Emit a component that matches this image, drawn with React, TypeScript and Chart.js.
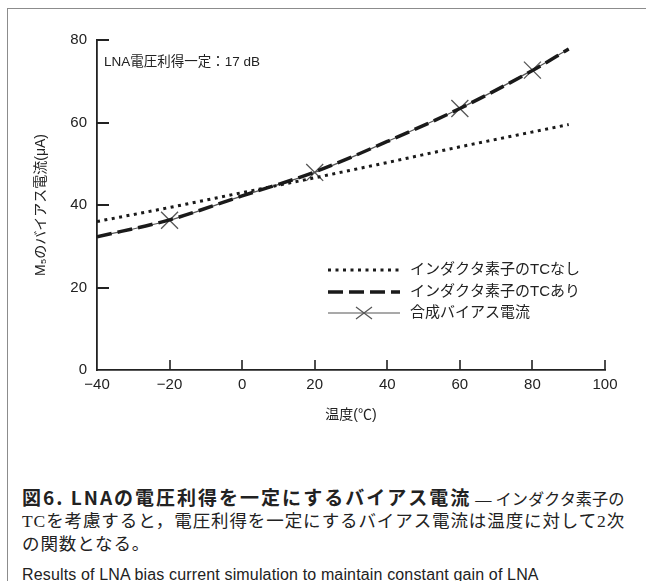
import React, { useEffect, useRef } from "react";
import { Chart, registerables } from "chart.js";

Chart.register(...registerables);

const tempX = [-40, -20, 0, 20, 40, 60, 80, 90];
const noTC = [36, 39.4, 43, 46.6, 50.3, 54.1, 57.7, 59.5];
const withTC = [32.3, 36.4, 42.2, 48.0, 55.4, 63.4, 72.6, 77.8];
const combined = [32.3, 36.3, 42.2, 47.9, 55.4, 63.4, 72.7, 77.8];
const markerTemps = [-20, 20, 60, 80];
const xTicks = [-40, -20, 0, 20, 40, 60, 80, 100];
const yTicks = [0, 20, 40, 60, 80];
const seriesNames = ["インダクタ素子のTCなし", "インダクタ素子のTCあり", "合成バイアス電流"];
const annotation = "LNA電圧利得一定：17 dB";
const xTitle = "温度(℃)";
const yTitle = "M₅のバイアス電流(μA)";

const SANS = '"Liberation Sans", "Noto Sans CJK JP", sans-serif';
const INK = "#222";

const innerTicks = {
  id: "innerTicks",
  afterDraw(chart: any) {
    const ctx: CanvasRenderingContext2D = chart.ctx;
    const area = chart.chartArea;
    const x = chart.scales.x, y = chart.scales.y;
    ctx.save();
    ctx.fillStyle = INK;
    for (const v of yTicks) {
      if (v === 0) continue;
      const py = Math.round(y.getPixelForValue(v));
      ctx.fillRect(area.left, py - 1, 12, 2);
    }
    for (const v of xTicks) {
      if (v === -40) continue;
      const px = Math.round(x.getPixelForValue(v));
      ctx.fillRect(px - 0.8, area.bottom - 10, 1.6, 10);
    }
    // annotation text
    ctx.font = "13.5px " + SANS;
    ctx.textBaseline = "middle";
    ctx.textAlign = "left";
    ctx.fillText(annotation, area.left + 7, area.top + 22);
    ctx.restore();

    // legend
    const lx0 = 328, lx1 = 400, tx = 410;
    const rows = [270, 292, 313];
    const ds = chart.data.datasets;
    rows.forEach((ry: number, i: number) => {
      const d = ds[i];
      ctx.save();
      ctx.strokeStyle = d.borderColor;
      ctx.lineWidth = d.borderWidth;
      ctx.setLineDash(d.borderDash || []);
      ctx.beginPath();
      ctx.moveTo(lx0, ry);
      ctx.lineTo(lx1, ry);
      ctx.stroke();
      ctx.restore();
      if (i === 2) {
        const cx = (lx0 + lx1) / 2, r = 8;
        ctx.save();
        ctx.setLineDash([]);
        ctx.strokeStyle = d.pointBorderColor;
        ctx.lineWidth = 1.2;
        ctx.beginPath();
        ctx.moveTo(cx - r, ry - r * 0.75);
        ctx.lineTo(cx + r, ry + r * 0.75);
        ctx.moveTo(cx - r, ry + r * 0.75);
        ctx.lineTo(cx + r, ry - r * 0.75);
        ctx.stroke();
        ctx.restore();
      }
      ctx.save();
      ctx.fillStyle = INK;
      ctx.font = "15px " + SANS;
      ctx.textBaseline = "middle";
      ctx.textAlign = "left";
      ctx.fillText(seriesNames[i], tx, ry);
      ctx.restore();
    });
  },
};

export default function App() {
  const ref = useRef<HTMLCanvasElement>(null);
  useEffect(() => {
    const canvas = ref.current!;
    Chart.defaults.font.family = SANS;
    Chart.defaults.color = INK;
    const chart = new Chart(canvas, {
      type: "line",
      data: {
        datasets: [
          {
            label: seriesNames[0],
            data: tempX.map((t, i) => ({ x: t, y: noTC[i] })),
            borderColor: "#1a1a1a",
            borderWidth: 3,
            borderDash: [3, 4.5],
            pointRadius: 0,
            cubicInterpolationMode: "monotone",
          },
          {
            label: seriesNames[1],
            data: tempX.map((t, i) => ({ x: t, y: withTC[i] })),
            borderColor: "#1a1a1a",
            borderWidth: 3.5,
            borderDash: [15, 6],
            pointRadius: 0,
            cubicInterpolationMode: "monotone",
          },
          {
            label: seriesNames[2],
            data: tempX.map((t, i) => ({ x: t, y: combined[i] })),
            borderColor: "#555",
            borderWidth: 1.2,
            pointStyle: "crossRot",
            pointRadius: tempX.map((t) => (markerTemps.includes(t) ? 12 : 0)),
            pointBorderColor: "#555",
            pointBorderWidth: 1.3,
            cubicInterpolationMode: "monotone",
          },
        ] as any,
      },
      options: {
        animation: false,
        responsive: false,
        events: [],
        layout: { padding: { left: 0, top: 40, right: 41, bottom: 0 } },
        plugins: { legend: { display: false }, tooltip: { enabled: false } },
        scales: {
          x: {
            type: "linear",
            min: -40,
            max: 100,
            afterFit: (s: any) => { s.height = 70; },
            afterBuildTicks: (s: any) => { s.ticks = xTicks.map((v) => ({ value: v })); },
            grid: { display: false, drawTicks: false },
            border: { display: true, color: INK, width: 1.8 },
            ticks: {
              padding: 6,
              font: { size: 15 },
              color: INK,
              callback: (v: any) => (v < 0 ? "−" + Math.abs(v) : String(v)),
            },
            title: { display: true, text: xTitle, font: { size: 14 }, color: INK, padding: { top: 0, bottom: 16 } },
          },
          y: {
            type: "linear",
            min: 0,
            max: 80,
            afterFit: (s: any) => { s.width = 97; },
            afterBuildTicks: (s: any) => { s.ticks = yTicks.map((v) => ({ value: v })); },
            grid: { display: false, drawTicks: false },
            border: { display: true, color: INK, width: 1.8 },
            ticks: { padding: 10, font: { size: 15 }, color: INK },
            title: { display: true, text: yTitle, font: { size: 14 }, color: INK, padding: { top: 33, bottom: 0 } },
          },
        },
      },
      plugins: [innerTicks],
    });
    return () => chart.destroy();
  }, []);

  const capBase: React.CSSProperties = {
    position: "absolute",
    left: 22,
    whiteSpace: "nowrap",
    color: INK,
    margin: 0,
  };
  const SERIF = '"Liberation Serif", "Noto Sans CJK JP", serif';

  return (
    <div style={{ position: "fixed", inset: 0, background: "#fff", overflow: "hidden" }}>
      <div style={{ position: "absolute", left: 7, top: 8, right: 0, bottom: 0, borderTop: "1.5px solid #8c8c8c", borderLeft: "1.5px solid #8c8c8c" }} />
      <canvas ref={ref} width={646} height={440} style={{ position: "absolute", left: 0, top: 0, width: 646, height: 440 }} />
      <div style={{ ...capBase, top: 485, fontSize: 19, lineHeight: "23px", fontFamily: '"Noto Sans CJK JP", sans-serif' }}>
        <span style={{ fontWeight: 700, letterSpacing: "2px" }}>図6. LNAの電圧利得を一定にするバイアス電流</span>
        <span style={{ fontFamily: SERIF, fontWeight: 400, fontSize: 16.2 }}> — インダクタ素子の</span>
      </div>
      <div style={{ ...capBase, top: 510, fontSize: 17.5, lineHeight: "22px", letterSpacing: "0.9px", fontFamily: SERIF }}>
        TCを考慮すると，電圧利得を一定にするバイアス電流は温度に対して2次
      </div>
      <div style={{ ...capBase, top: 533, fontSize: 17.5, lineHeight: "22px", letterSpacing: "0.9px", fontFamily: SERIF }}>
        の関数となる。
      </div>
      <div style={{ ...capBase, top: 565, fontSize: 16, lineHeight: "20px", letterSpacing: "0.15px", fontFamily: SANS }}>
        Results of LNA bias current simulation to maintain constant gain of LNA
      </div>
    </div>
  );
}
